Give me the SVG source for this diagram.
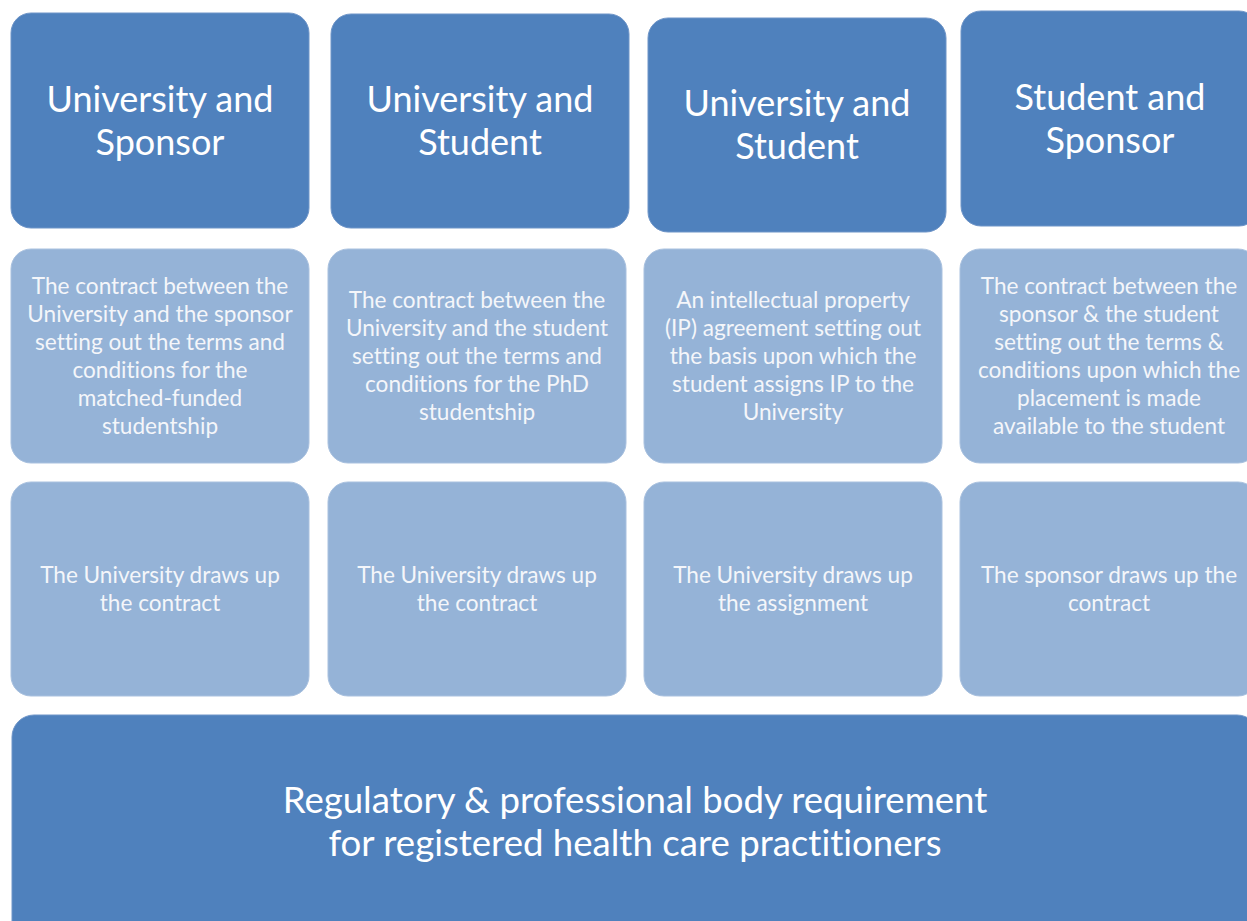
<svg xmlns="http://www.w3.org/2000/svg" width="1247" height="921" viewBox="0 0 1247 921">
<style>
.d{fill:#4f81bd;stroke:#6f95c8;stroke-width:1}
.l{fill:#95b3d7;stroke:#a9c1df;stroke-width:1}
.t{font-family:Lato,"Noto Sans",sans-serif;fill:#ffffff;text-anchor:middle;font-variant-ligatures:none;font-feature-settings:"liga" 0,"dlig" 0}
.h{font-size:36px}
.b{font-size:36.6px}
.s{font-size:22.6px;fill:#f4f6fa}
</style>
<rect width="1247" height="921" fill="#ffffff"/>
<g id="n1"><rect class="d" x="11" y="13" width="298" height="215" rx="20"/>
<text class="t h" x="160" y="112">University and</text><text class="t h" x="160" y="155">Sponsor</text></g>
<g id="n2"><rect class="d" x="331" y="14" width="298" height="214" rx="20"/>
<text class="t h" x="480" y="112">University and</text><text class="t h" x="480" y="155">Student</text></g>
<g id="n3"><rect class="d" x="648" y="18" width="298" height="214" rx="20"/>
<text class="t h" x="797" y="116">University and</text><text class="t h" x="797" y="159">Student</text></g>
<g id="n4"><rect class="d" x="961" y="11" width="298" height="215" rx="20"/>
<text class="t h" x="1110" y="110">Student and</text><text class="t h" x="1110" y="153">Sponsor</text></g>

<g id="n5"><rect class="l" x="11" y="249" width="298" height="214" rx="20"/>
<text class="t s" x="160" y="294">The contract between the</text>
<text class="t s" x="160" y="322">University and the sponsor</text>
<text class="t s" x="160" y="350">setting out the terms and</text>
<text class="t s" x="160" y="378">conditions for the</text>
<text class="t s" x="160" y="406">matched-funded</text>
<text class="t s" x="160" y="434">studentship</text></g>
<g id="n6"><rect class="l" x="328" y="249" width="298" height="214" rx="20"/>
<text class="t s" x="477" y="308">The contract between the</text>
<text class="t s" x="477" y="336">University and the student</text>
<text class="t s" x="477" y="364">setting out the terms and</text>
<text class="t s" x="477" y="392">conditions for the PhD</text>
<text class="t s" x="477" y="420">studentship</text></g>
<g id="n7"><rect class="l" x="644" y="249" width="298" height="214" rx="20"/>
<text class="t s" x="793" y="308">An intellectual property</text>
<text class="t s" x="793" y="336">(IP) agreement setting out</text>
<text class="t s" x="793" y="364">the basis upon which the</text>
<text class="t s" x="793" y="392">student assigns IP to the</text>
<text class="t s" x="793" y="420">University</text></g>
<g id="n8"><rect class="l" x="960" y="249" width="298" height="214" rx="20"/>
<text class="t s" x="1109" y="294">The contract between the</text>
<text class="t s" x="1109" y="322">sponsor &amp; the student</text>
<text class="t s" x="1109" y="350">setting out the terms &amp;</text>
<text class="t s" x="1109" y="378">conditions upon which the</text>
<text class="t s" x="1109" y="406">placement is made</text>
<text class="t s" x="1109" y="434">available to the student</text></g>

<g id="n9"><rect class="l" x="11" y="482" width="298" height="214" rx="20"/>
<text class="t s" x="160" y="583">The University draws up</text>
<text class="t s" x="160" y="611">the contract</text></g>
<g id="n10"><rect class="l" x="328" y="482" width="298" height="214" rx="20"/>
<text class="t s" x="477" y="583">The University draws up</text>
<text class="t s" x="477" y="611">the contract</text></g>
<g id="n11"><rect class="l" x="644" y="482" width="298" height="214" rx="20"/>
<text class="t s" x="793" y="583">The University draws up</text>
<text class="t s" x="793" y="611">the assignment</text></g>
<g id="n12"><rect class="l" x="960" y="482" width="298" height="214" rx="20"/>
<text class="t s" x="1109" y="583">The sponsor draws up the</text>
<text class="t s" x="1109" y="611">contract</text></g>

<g id="n13"><rect class="d" x="12" y="715" width="1247" height="230" rx="22"/>
<text class="t b" x="635" y="813">Regulatory &amp; professional body requirement</text>
<text class="t b" x="635" y="856">for registered health care practitioners</text></g>
<g id="connectors"></g>
</svg>
